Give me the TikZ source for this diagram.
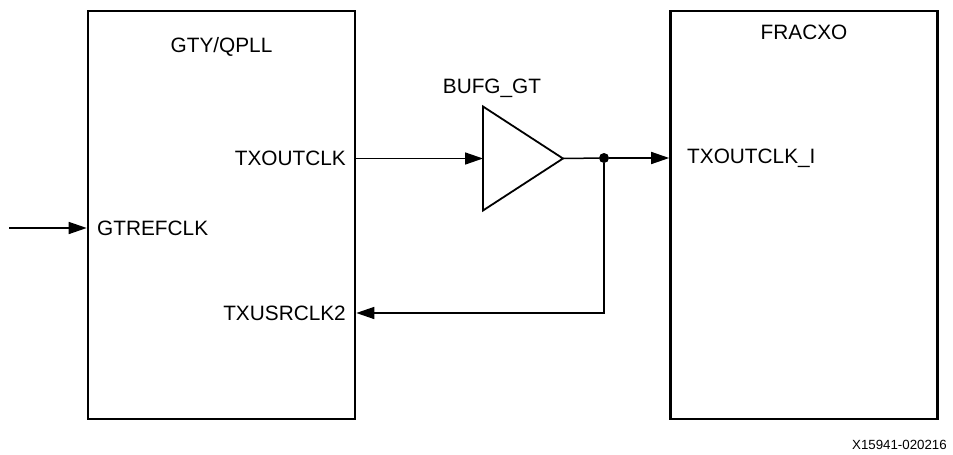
\documentclass[tikz,border=0pt]{standalone}
\usepackage{fontspec}
\setmainfont{Liberation Sans}
\usetikzlibrary{positioning,shapes.geometric,arrows.meta,calc}
\tikzset{
  blk/.style={draw=black,line width=2.6pt,minimum width=267pt,
              minimum height=408pt,inner sep=0pt},
  lbl/.style={font=\fontsize{20.8pt}{24pt}\selectfont,inner sep=0pt},
  buf/.style={draw=black,line width=1.8pt,isosceles triangle,
              isosceles triangle stretches,shape border rotate=0,
              minimum width=104pt,minimum height=80pt,inner sep=0pt,outer sep=0pt},
  arr/.style={-{Triangle[length=18pt,width=12pt]},line width=1.5pt},
  wire/.style={line width=1.5pt},
  dot/.style={circle,fill=black,minimum size=10pt,inner sep=0pt},
}

\begin{document}
\begin{tikzpicture}[x=1pt,y=-1pt]
  \useasboundingbox (0,0) rectangle (953,455);

  % Blocks
  \node[blk] (gty) at (221.5,215) {};
  \node[blk] (frac) at (804,215) {};
  \node[buf,anchor=west] (bufg) at (483,158.5) {};
  \node[dot] (split) at (604,158) {};

  % Labels
  \node[lbl] (gtyname) at (221.5,47) {GTY/QPLL};
  \node[lbl] (fracname) at (804,32) {FRACXO};
  \node[lbl] (bufname) at (492,88) {BUFG\_GT};
  \node[lbl,anchor=east] (txout) at (346,158) {TXOUTCLK};
  \node[lbl,anchor=east] (txusr) at (346,313) {TXUSRCLK2};
  \node[lbl,anchor=west] (gtref) at (97,228) {GTREFCLK};
  \node[lbl,anchor=west] (txouti) at (687,158) {TXOUTCLK\_I};
  \node[anchor=east,inner sep=0pt,font=\fontsize{13.3pt}{15pt}\selectfont]
    (figid) at (947,445) {X15941-020216};

  \coordinate (refin) at (9,228);

  % Arrows
  \draw[arr] (refin) -- (gty.west |- refin);
  \draw[arr] (gty.east |- bufg.west) -- (bufg.west);
  \draw[wire] (bufg.east) -- (split);
  \draw[arr] (split) -- (frac.west |- split);
  \draw[arr] (split) |- (gty.east |- txusr);

\end{tikzpicture}
\end{document}
